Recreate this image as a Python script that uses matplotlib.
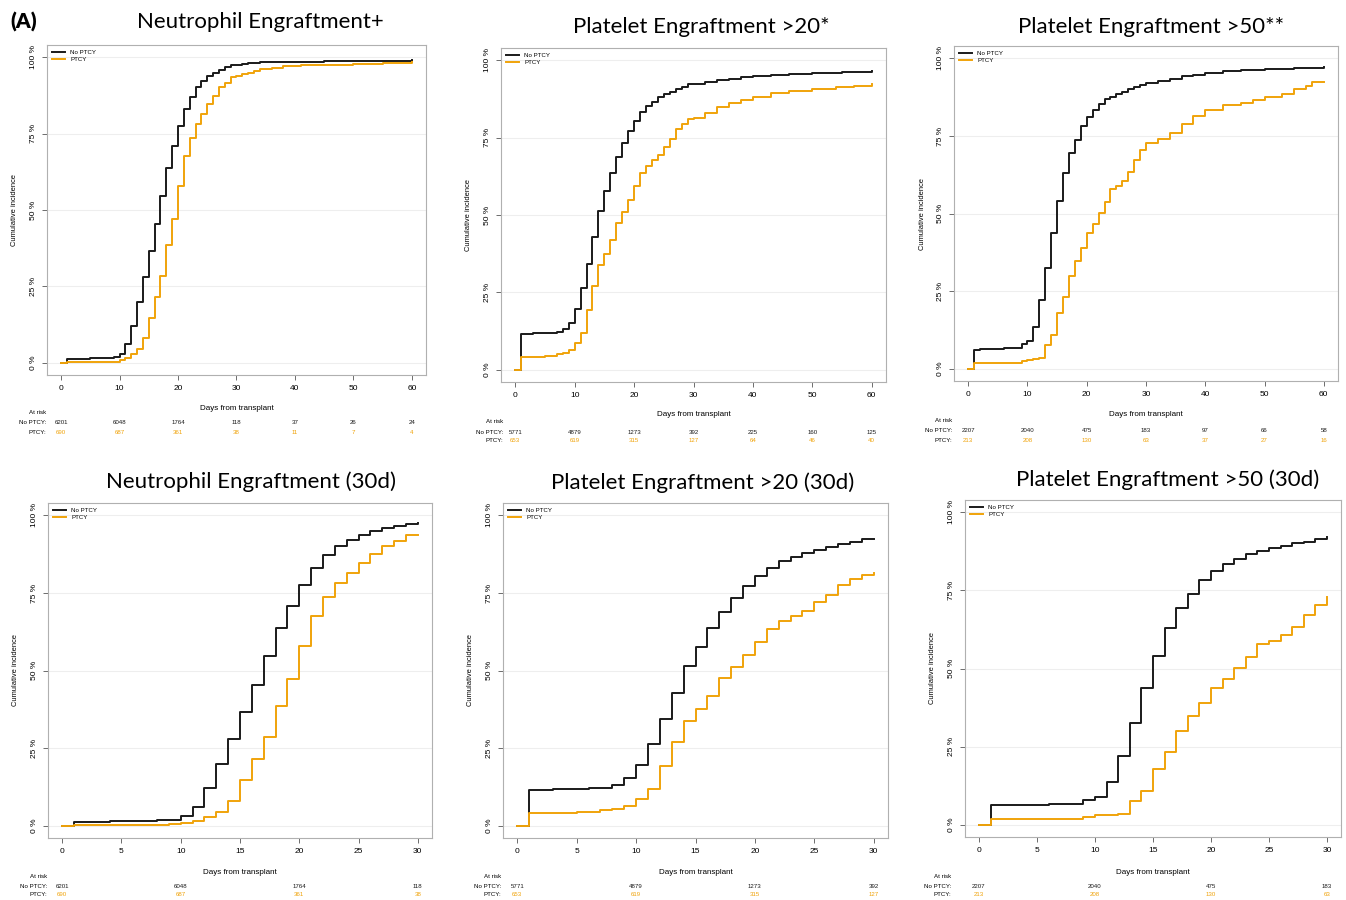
import numpy as np
import matplotlib
matplotlib.use("Agg")
import matplotlib.pyplot as plt
from matplotlib import transforms

W, H = 1346, 900
BLACK = "#1a1a1a"
ORANGE = "#F0A30A"

# ---- data (cumulative incidence, %) -------------------------------------
# neutrophil engraftment
neu_t_no = [0, 1, 2, 3, 4, 5, 6, 7, 8, 9, 10, 11, 12, 13, 14, 15, 16, 17, 18, 19, 20,
            21, 22, 23, 24, 25, 26, 27, 28, 29, 30, 31, 32, 33, 34, 35, 37, 40, 45, 50, 55, 60]
neu_v_no = [0, 1.1, 1.2, 1.3, 1.4, 1.5, 1.5, 1.6, 1.7, 1.8, 3.0, 6.0, 12.0, 20.0, 28.0, 36.7,
            45.4, 54.6, 63.8, 70.8, 77.5, 83.2, 87.1, 90.2, 92.2, 93.8, 95.0, 95.8, 96.7, 97.3,
            97.6, 97.9, 98.1, 98.2, 98.3, 98.4, 98.5, 98.6, 98.7, 98.8, 98.9, 99.0]
neu_t_pt = [0, 1, 2, 3, 4, 5, 6, 7, 8, 9, 10, 11, 12, 13, 14, 15, 16, 17, 18, 19, 20,
            21, 22, 23, 24, 25, 26, 27, 28, 29, 30, 31, 32, 33, 34, 36, 38, 41, 45, 50, 55, 60]
neu_v_pt = [0, 0.1, 0.1, 0.1, 0.1, 0.1, 0.2, 0.3, 0.3, 0.4, 0.9, 1.6, 2.9, 4.4, 8.0, 14.6,
            21.6, 28.5, 38.6, 47.2, 57.8, 67.7, 73.6, 78.3, 81.5, 84.8, 87.4, 90.1, 91.7, 93.6,
            93.8, 94.5, 95.0, 95.5, 96.0, 96.5, 97.0, 97.3, 97.6, 97.9, 98.2, 98.6]

# platelet engraftment > 20
p20_t_no = [0, 1, 2, 3, 4, 5, 6, 7, 8, 9, 10, 11, 12, 13, 14, 15, 16, 17, 18, 19, 20,
            21, 22, 23, 24, 25, 26, 27, 28, 29, 30, 32, 34, 36, 38, 40, 43, 46, 50, 55, 60]
p20_v_no = [0, 11.5, 11.6, 11.7, 11.8, 11.9, 12.0, 12.1, 13.0, 15.2, 19.5, 26.4, 34.3, 42.9,
            51.3, 57.6, 63.6, 68.8, 73.3, 77.2, 80.4, 83.2, 85.2, 86.7, 88.0, 89.0, 89.8, 90.9,
            91.5, 92.3, 92.5, 93.0, 93.6, 94.1, 94.5, 94.9, 95.3, 95.7, 96.0, 96.3, 96.5]
p20_t_pt = [0, 1, 2, 3, 4, 5, 6, 7, 8, 9, 10, 11, 12, 13, 14, 15, 16, 17, 18, 19, 20,
            21, 22, 23, 24, 25, 26, 27, 28, 29, 30, 32, 34, 36, 38, 40, 43, 46, 50, 54, 57, 60]
p20_v_pt = [0, 4.1, 4.1, 4.2, 4.2, 4.3, 4.5, 4.9, 5.3, 6.2, 8.7, 11.7, 19.2, 26.9, 33.8, 37.5,
            41.9, 47.5, 51.1, 55.0, 59.3, 63.5, 65.8, 67.7, 69.3, 72.1, 74.5, 77.7, 79.4, 80.9,
            81.5, 83.0, 84.8, 86.3, 87.3, 88.3, 89.3, 90.1, 90.8, 91.3, 91.8, 92.2]

# platelet engraftment > 50
p50_t_no = [0, 1, 2, 3, 4, 5, 6, 7, 8, 9, 10, 11, 12, 13, 14, 15, 16, 17, 18, 19, 20,
            21, 22, 23, 24, 25, 26, 27, 28, 29, 30, 32, 34, 36, 38, 40, 43, 46, 50, 55, 60]
p50_v_no = [0, 6.1, 6.2, 6.3, 6.4, 6.4, 6.5, 6.6, 6.7, 7.8, 8.9, 13.5, 22.1, 32.5, 43.7, 53.9,
            62.9, 69.5, 73.8, 78.3, 81.2, 83.5, 85.2, 86.8, 87.7, 88.6, 89.3, 90.1, 90.7, 91.5,
            92.1, 92.8, 93.5, 94.2, 94.8, 95.3, 95.8, 96.2, 96.6, 96.9, 97.1]
p50_t_pt = [0, 1, 2, 3, 4, 5, 6, 7, 8, 9, 10, 11, 12, 13, 14, 15, 16, 17, 18, 19, 20,
            21, 22, 23, 24, 25, 26, 27, 28, 29, 30, 32, 34, 36, 38, 40, 43, 46, 48, 50, 53, 55, 57, 58, 60]
p50_v_pt = [0, 1.9, 1.9, 1.9, 1.9, 1.9, 1.9, 1.9, 1.9, 2.3, 2.9, 3.2, 3.5, 7.5, 10.9, 17.9,
            23.1, 30.0, 34.7, 38.9, 43.6, 46.5, 50.3, 53.6, 57.8, 58.9, 60.6, 63.3, 67.3, 70.5,
            72.8, 74.0, 76.0, 79.0, 81.5, 83.5, 85.0, 85.5, 86.5, 87.5, 88.5, 90.0, 91.0, 92.3, 92.3]

# numbers at risk
risk_days_60 = [0, 10, 20, 30, 40, 50, 60]
neu_risk_no = [6201, 6048, 1764, 118, 37, 26, 24]
neu_risk_pt = [690, 687, 361, 38, 11, 7, 4]
p20_risk_no = [5771, 4879, 1273, 392, 225, 160, 125]
p20_risk_pt = [653, 619, 315, 127, 64, 46, 40]
p50_risk_no = [2207, 2040, 475, 183, 97, 66, 58]
p50_risk_pt = [213, 208, 130, 63, 37, 27, 16]

titles = ["Neutrophil Engraftment+", "Platelet Engraftment >20*", "Platelet Engraftment >50**",
          "Neutrophil Engraftment (30d)", "Platelet Engraftment >20 (30d)", "Platelet Engraftment >50 (30d)"]

fig = plt.figure(figsize=(W / 100, H / 100), dpi=100)
plt.rcParams["font.family"] = ["Liberation Sans", "DejaVu Sans"]


def fy(py):
    return 1 - py / H


def panel(rect, t_no, v_no, t_pt, v_pt, xmax, risk_no, risk_pt, title, title_xy, rows):
    l, t, r, b = rect
    ax = fig.add_axes([l / W, fy(b), (r - l) / W, (b - t) / H])
    # keep only the window shown
    tn = [x for x in t_no if x <= xmax]
    vn = v_no[:len(tn)]
    tp = [x for x in t_pt if x <= xmax]
    vp = v_pt[:len(tp)]
    ax.step(tn + [xmax], vn + [vn[-1]], where="post", color=BLACK, lw=1.4, label="No PTCY")
    ax.step(tp + [xmax], vp + [vp[-1]], where="post", color=ORANGE, lw=1.4, label="PTCY")
    ax.set_xlim(-0.04 * xmax, 1.04 * xmax)
    ax.set_ylim(-4, 104)
    step = 10 if xmax == 60 else 5
    ax.set_xticks(np.arange(0, xmax + 1, step))
    ax.set_yticks([0, 25, 50, 75, 100])
    ax.set_yticklabels(["0 %", "25 %", "50 %", "75 %", "100 %"], rotation=90, va="center")
    for y in [0, 25, 50, 75, 100]:
        ax.axhline(y, color="#eeeeee", lw=0.8, zorder=0)
    for s in ax.spines.values():
        s.set_color("#b0b0b0")
        s.set_linewidth(0.8)
    ax.tick_params(axis="both", labelsize=6, length=3.5, width=0.6, color="#555555", pad=4)
    ax.legend(loc="upper left", fontsize=4.4, frameon=False, handlelength=2.2,
              borderaxespad=0.4, labelspacing=0.3)
    # titles and labels
    fig.text(title_xy[0] / W, fy(title_xy[1]), title, fontsize=16, family="Lato",
             ha="center", va="center")
    xl, ar, nr, pr, rx = rows
    fig.text((l + r) / 2 / W, fy(xl), "Days from transplant", fontsize=5.8, ha="center", va="center")
    fig.text((l - 32) / W, fy((t + b) / 2), "Cumulative incidence", fontsize=5.4,
             rotation=90, ha="center", va="center")
    fig.text(rx / W, fy(ar), "At risk", fontsize=4.4, ha="right", va="center")
    fig.text(rx / W, fy(nr), "No PTCY:", fontsize=4.4, ha="right", va="center")
    fig.text(rx / W, fy(pr), "PTCY:", fontsize=4.4, ha="right", va="center")
    tr = transforms.blended_transform_factory(ax.transData, fig.transFigure)
    for d, a, p in zip(risk_days_60, risk_no, risk_pt):
        if d > xmax:
            continue
        ax.text(d, fy(nr), str(a), transform=tr, fontsize=4.4, ha="center", va="center",
                color=BLACK, clip_on=False)
        ax.text(d, fy(pr), str(p), transform=tr, fontsize=4.4, ha="center", va="center",
                color=ORANGE, clip_on=False)
    return ax


panel((47, 45, 426, 375), neu_t_no, neu_v_no, neu_t_pt, neu_v_pt, 60,
      neu_risk_no, neu_risk_pt, titles[0], (260, 22), (408, 413, 423, 432, 46))
panel((501, 48, 886, 382), p20_t_no, p20_v_no, p20_t_pt, p20_v_pt, 60,
      p20_risk_no, p20_risk_pt, titles[1], (701, 27), (415, 421, 432, 440, 503))
panel((954, 46, 1338, 381), p50_t_no, p50_v_no, p50_t_pt, p50_v_pt, 60,
      p50_risk_no, p50_risk_pt, titles[2], (1151, 27), (415, 420, 431, 440, 952))
panel((48, 503, 432, 838), neu_t_no, neu_v_no, neu_t_pt, neu_v_pt, 30,
      neu_risk_no, neu_risk_pt, titles[3], (251, 482), (872, 877, 886, 895, 47))
panel((503, 503, 888, 838), p20_t_no, p20_v_no, p20_t_pt, p20_v_pt, 30,
      p20_risk_no, p20_risk_pt, titles[4], (703, 483), (872, 877, 886, 895, 501))
panel((965, 500, 1341, 837), p50_t_no, p50_v_no, p50_t_pt, p50_v_pt, 30,
      p50_risk_no, p50_risk_pt, titles[5], (1168, 480), (872, 877, 886, 895, 951))

fig.text(10 / W, fy(22), "(A)", fontsize=15, fontweight="heavy", family="Lato", ha="left", va="center")

fig.savefig("out.png", dpi=100)
